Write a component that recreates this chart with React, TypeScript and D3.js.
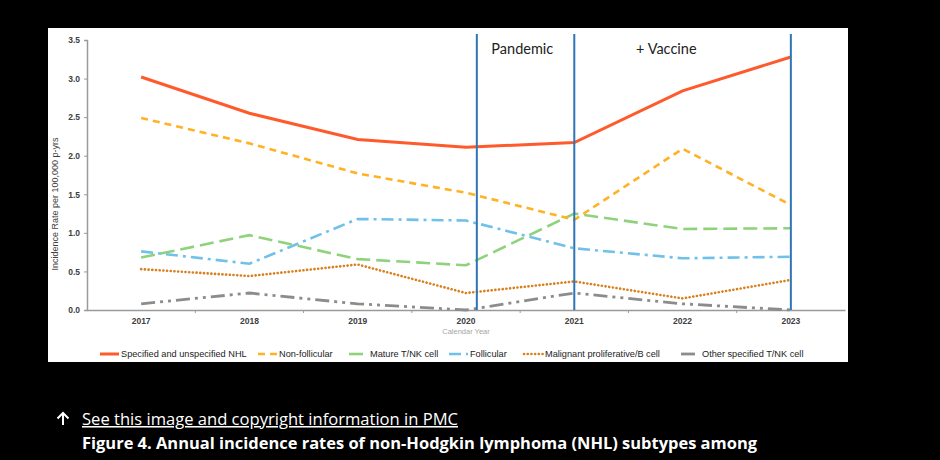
import * as d3 from "d3";
import { useEffect, useRef } from "react";

// years on the x axis
const years = ["2017", "2018", "2019", "2020", "2021", "2022", "2023"];
const yTicks = [0, 0.5, 1, 1.5, 2, 2.5, 3, 3.5];

// series values
const specifiedNHL = [3.02, 2.55, 2.21, 2.11, 2.17, 2.84, 3.28];
const nonFollicular = [2.49, 2.16, 1.77, 1.52, 1.17, 2.09, 1.36];
const matureTNK = [0.68, 0.97, 0.66, 0.58, 1.25, 1.05, 1.06];
const follicular = [0.76, 0.6, 1.18, 1.16, 0.8, 0.67, 0.69];
const malignantB = [0.53, 0.44, 0.59, 0.22, 0.37, 0.15, 0.39];
const otherTNK = [0.08, 0.22, 0.08, 0.0, 0.22, 0.08, 0.0];

// period dividers (fractional year positions) and labels
const dividers = [2020.1, 2021, 2023];
const periodLabels = [
  { text: "Pandemic", at: 2020.52 },
  { text: "+ Vaccine", at: 2021.85 },
];

const series = [
  { name: "Specified and unspecified NHL", values: specifiedNHL, color: "#ff5a2c", dash: "", width: 3, cap: "butt" },
  { name: "Non-follicular", values: nonFollicular, color: "#ffb224", dash: "7,5", width: 2.6, cap: "butt" },
  { name: "Mature T/NK cell", values: matureTNK, color: "#8fd27c", dash: "14,6", width: 2.6, cap: "butt" },
  { name: "Follicular", values: follicular, color: "#70c1e9", dash: "12,5,3,5", width: 2.6, cap: "butt" },
  { name: "Malignant proliferative/B cell", values: malignantB, color: "#d9801e", dash: "0.1,3.6", width: 2.6, cap: "round" },
  { name: "Other specified T/NK cell", values: otherTNK, color: "#8c8c8c", dash: "14,5,3,5,3,5", width: 2.8, cap: "butt" },
];

// legend x start of each sample line
const legendX = [100, 258, 349, 449, 524, 681];

export default function App() {
  const svgRef = useRef<SVGSVGElement>(null);

  useEffect(() => {
    document.body.style.margin = "0";
    document.body.style.background = "#000";
    const svg = d3.select(svgRef.current);
    svg.selectAll("*").remove();

    const left = 87;
    const right = 845;
    const top = 40;
    const bottom = 310;

    // white panel
    svg.append("rect").attr("width", 940).attr("height", 460).attr("fill", "#000");
    svg.append("rect").attr("x", 48).attr("y", 28).attr("width", 800).attr("height", 334).attr("fill", "#fff");

    const x = d3.scaleBand().domain(years).range([left, right]);
    const xc = (i: number) => (x(years[i]) as number) + x.bandwidth() / 2;
    const xYear = d3
      .scaleLinear()
      .domain([2017, 2023])
      .range([xc(0), xc(years.length - 1)]);
    const y = d3.scaleLinear().domain([0, 3.5]).range([bottom, top]);

    const font = "'Liberation Sans', Arial, sans-serif";

    // y axis
    const yAxis = svg.append("g").attr("transform", `translate(${left},0)`).call(
      d3.axisLeft(y).tickValues(yTicks).tickSize(3).tickFormat(d3.format(".1f"))
    );
    yAxis.select(".domain").attr("stroke", "#9a9a9a").attr("stroke-width", 1.5);
    yAxis.selectAll(".tick line").attr("stroke", "#9a9a9a");
    yAxis
      .selectAll(".tick text")
      .attr("font-family", font)
      .attr("font-size", 8.5)
      .attr("font-weight", "bold")
      .attr("fill", "#404040")
      .attr("x", -7);

    // x axis
    const xAxis = svg.append("g").attr("transform", `translate(0,${bottom})`).call(
      d3.axisBottom(x).tickSize(0).tickPadding(8)
    );
    xAxis.select(".domain").attr("stroke", "#9a9a9a").attr("stroke-width", 1.5);
    xAxis
      .selectAll(".tick text")
      .attr("font-family", font)
      .attr("font-size", 8.5)
      .attr("font-weight", "bold")
      .attr("fill", "#404040");
    // small ticks between categories
    svg
      .append("g")
      .selectAll("line")
      .data(years.slice(1))
      .enter()
      .append("line")
      .attr("x1", (d) => x(d) as number)
      .attr("x2", (d) => x(d) as number)
      .attr("y1", bottom)
      .attr("y2", bottom + 3)
      .attr("stroke", "#9a9a9a");

    // axis titles
    svg
      .append("text")
      .attr("transform", `translate(58,${(top + bottom) / 2 + 29}) rotate(-90)`)
      .attr("text-anchor", "middle")
      .attr("font-family", font)
      .attr("font-size", 9)
      .attr("fill", "#404040")
      .text("Incidence Rate per 100,000 p-yrs");
    svg
      .append("text")
      .attr("x", xc(3))
      .attr("y", 334)
      .attr("text-anchor", "middle")
      .attr("font-family", font)
      .attr("font-size", 7.5)
      .attr("fill", "#a6a6a6")
      .text("Calendar Year");

    // series lines
    const line = d3
      .line<number>()
      .x((d, i) => xc(i))
      .y((d) => y(d));
    series
      .slice()
      .reverse()
      .forEach((s) => {
        svg
          .append("path")
          .datum(s.values)
          .attr("d", line)
          .attr("fill", "none")
          .attr("stroke", s.color)
          .attr("stroke-width", s.width)
          .attr("stroke-dasharray", s.dash)
          .attr("stroke-linecap", s.cap);
      });

    // period dividers
    svg
      .append("g")
      .selectAll("line")
      .data(dividers)
      .enter()
      .append("line")
      .attr("x1", (d) => xYear(d))
      .attr("x2", (d) => xYear(d))
      .attr("y1", 34)
      .attr("y2", bottom)
      .attr("stroke", "#2e75b6")
      .attr("stroke-width", 2);
    svg
      .append("g")
      .selectAll("text")
      .data(periodLabels)
      .enter()
      .append("text")
      .attr("x", (d) => xYear(d.at))
      .attr("y", 54)
      .attr("text-anchor", "middle")
      .attr("font-family", "Lato, 'Open Sans', sans-serif")
      .attr("font-size", 14.5)
      .attr("fill", "#222")
      .text((d) => d.text);

    // legend
    const lg = svg.append("g").attr("transform", "translate(0,354)");
    series.forEach((s, i) => {
      const lx = legendX[i];
      lg.append("line")
        .attr("x1", lx)
        .attr("x2", lx + 19)
        .attr("y1", 0)
        .attr("y2", 0)
        .attr("stroke", s.color)
        .attr("stroke-width", s.width)
        .attr("stroke-dasharray", s.dash)
        .attr("stroke-linecap", s.cap);
      lg.append("text")
        .attr("x", lx + 21)
        .attr("y", 3.3)
        .attr("font-family", font)
        .attr("font-size", 9.2)
        .attr("fill", "#222")
        .text(s.name);
    });

    // caption below the figure
    const capFont = "'Open Sans', 'Noto Sans', sans-serif";
    // up arrow icon
    svg
      .append("path")
      .attr("d", "M63,425 L63,413 M57.5,418.5 L63,413 L68.5,418.5")
      .attr("fill", "none")
      .attr("stroke", "#fff")
      .attr("stroke-width", 2);
    svg
      .append("text")
      .attr("x", 82)
      .attr("y", 425)
      .attr("font-family", capFont)
      .attr("font-size", 15.5)
      .attr("fill", "#fff")
      .attr("text-decoration", "underline")
      .attr("textLength", 376)
      .attr("lengthAdjust", "spacingAndGlyphs")
      .text("See this image and copyright information in PMC");
    svg
      .append("text")
      .attr("x", 82)
      .attr("y", 449)
      .attr("font-family", capFont)
      .attr("font-size", 15.5)
      .attr("font-weight", "bold")
      .attr("fill", "#fff")
      .attr("textLength", 675)
      .attr("lengthAdjust", "spacingAndGlyphs")
      .text("Figure 4. Annual incidence rates of non-Hodgkin lymphoma (NHL) subtypes among");
  }, []);

  return (
    <div style={{ position: "fixed", left: 0, top: 0, width: 940, height: 460, background: "#000" }}>
      <svg ref={svgRef} width={940} height={460} style={{ display: "block" }} />
    </div>
  );
}
